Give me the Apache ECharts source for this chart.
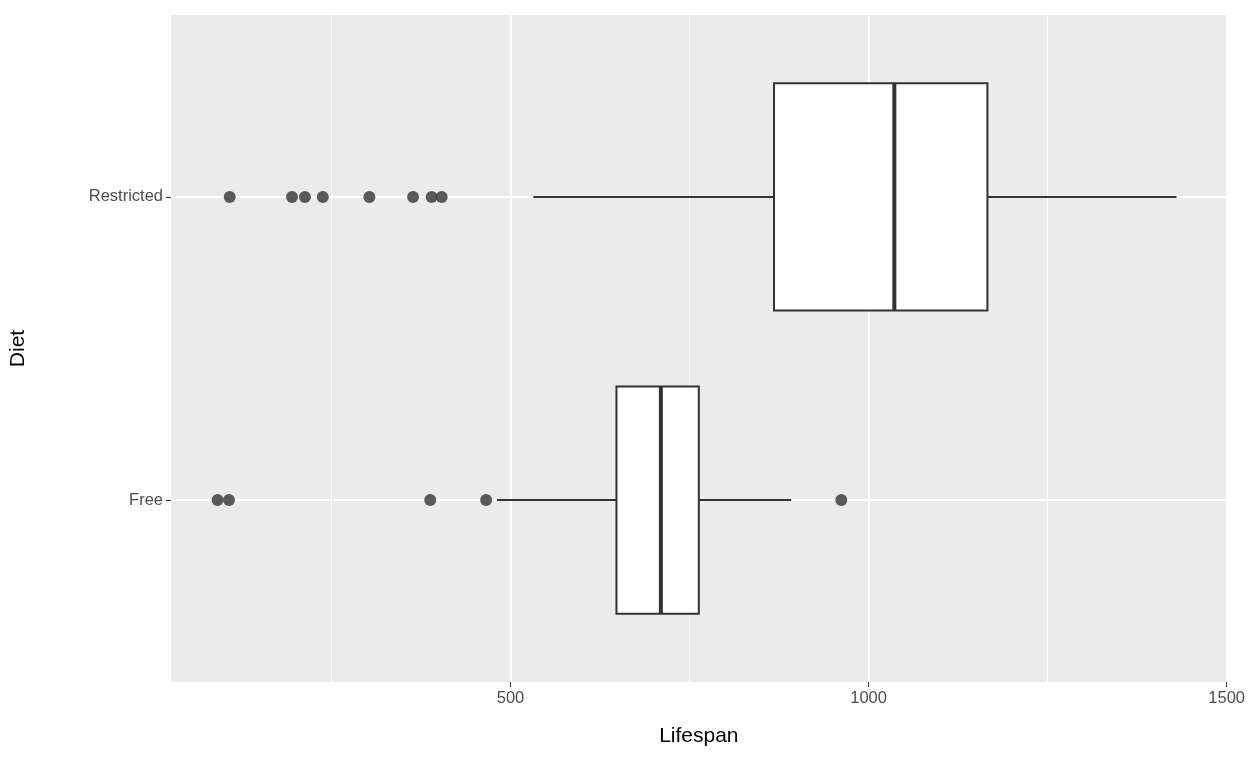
<!DOCTYPE html>
<html><head><meta charset="utf-8">
<script src="https://cdn.jsdelivr.net/npm/echarts@6/dist/echarts.min.js"></script>
<style>html,body{margin:0;padding:0;background:#fff}#c{width:1248px;height:768px}</style>
</head><body><div id="c"></div>
<script>
const categories = ['Free', 'Restricted'];
// [whiskerLow, Q1, median, Q3, whiskerHigh]
const boxStats = [
  [481, 648, 710, 763, 892],
  [532, 868, 1036, 1166, 1430]
];
const outliersFree = [91, 107, 388, 466, 962];
const outliersRestricted = [108, 195, 213, 238, 303, 364, 390, 404];
const xTicks = [500, 1000, 1500];

const chart = echarts.init(document.getElementById('c'));
const outlierData = outliersFree.map(v => [v, 1]).concat(outliersRestricted.map(v => [v, 2]));
const boxData = boxStats.map((s, i) => [i + 1].concat(s));
const lineColor = '#333333';
chart.setOption({
  animation: false,
  grid: {left: 170, right: 17, top: 15, bottom: 86, show: true, backgroundColor: '#EBEBEB', borderWidth: 0},
  xAxis: {
    type: 'value', min: 26, max: 1500,
    name: 'Lifespan', nameLocation: 'middle', nameGap: 44,
    nameTextStyle: {fontSize: 21, color: '#000', fontFamily: 'Liberation Sans'},
    axisLine: {show: false},
    axisTick: {show: true, customValues: xTicks, length: 5, lineStyle: {color: '#333'}},
    axisLabel: {customValues: xTicks, formatter: v => String(v), showMaxLabel: true, fontSize: 16.5, color: '#4D4D4D', fontFamily: 'Liberation Sans', margin: 8},
    splitLine: {show: false}
  },
  yAxis: {
    type: 'value', min: 0.4, max: 2.6,
    name: 'Diet', nameLocation: 'middle', nameGap: 142, nameRotate: 90,
    nameTextStyle: {fontSize: 21, color: '#000', fontFamily: 'Liberation Sans'},
    axisLine: {show: false},
    axisTick: {show: true, customValues: [1, 2], length: 5, lineStyle: {color: '#333'}},
    axisLabel: {customValues: [1, 2], formatter: v => categories[Math.round(v) - 1], fontSize: 16.5, color: '#4D4D4D', fontFamily: 'Liberation Sans', margin: 8},
    splitLine: {show: false}
  },
  series: [
    {
      type: 'scatter', data: [], silent: true, z: 0, zlevel: 0,
      markLine: {
        symbol: 'none', silent: true, label: {show: false}, z: 0,
        data: [
          {xAxis: 250, lineStyle: {width: 1}}, {xAxis: 750, lineStyle: {width: 1}}, {xAxis: 1250, lineStyle: {width: 1}},
          {xAxis: 500}, {xAxis: 1000}, {xAxis: 1500}, {yAxis: 1}, {yAxis: 2}
        ],
        lineStyle: {color: '#FFFFFF', width: 2, type: 'solid'}
      }
    },
    {
      type: 'custom', data: boxData, z: 10,
      renderItem: function (params, api) {
        const y = api.value(0);
        const lo = api.coord([api.value(1), y]), q1 = api.coord([api.value(2), y - 0.375]);
        const med = api.value(3);
        const q3 = api.coord([api.value(4), y + 0.375]), hi = api.coord([api.value(5), y]);
        const q1c = api.coord([api.value(2), y]), q3c = api.coord([api.value(4), y]);
        const m1 = api.coord([med, y - 0.375]), m2 = api.coord([med, y + 0.375]);
        const st = {stroke: lineColor, lineWidth: 2};
        return {type: 'group', children: [
          {type: 'line', shape: {x1: lo[0], y1: lo[1], x2: q1c[0], y2: q1c[1]}, style: st},
          {type: 'line', shape: {x1: q3c[0], y1: q3c[1], x2: hi[0], y2: hi[1]}, style: st},
          {type: 'rect', shape: {x: q1[0], y: q3[1], width: q3[0] - q1[0], height: q1[1] - q3[1]}, style: {fill: '#fff', stroke: lineColor, lineWidth: 2}},
          {type: 'line', shape: {x1: m1[0], y1: m1[1], x2: m2[0], y2: m2[1]}, style: {stroke: lineColor, lineWidth: 4}}
        ]};
      }
    },
    {
      type: 'scatter', data: outlierData, symbolSize: 12, z: 12,
      itemStyle: {color: '#333333'}
    }
  ]
});
</script></body></html>
